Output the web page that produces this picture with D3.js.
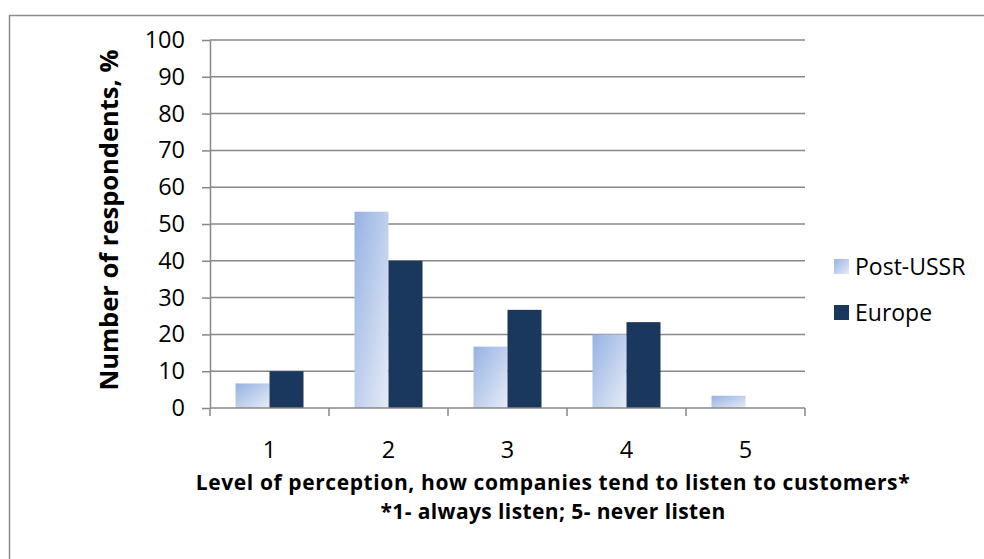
<!DOCTYPE html>
<html>
<head>
<meta charset="utf-8">
<script src="https://cdn.jsdelivr.net/npm/d3@7"></script>
<style>
  html, body { margin: 0; padding: 0; background: #fff; }
  svg { display: block; }
  text { font-family: "Open Sans", "Noto Sans", sans-serif; fill: #000; }
</style>
</head>
<body>
<svg id="chart" width="984" height="559"></svg>
<script>
// Survey answers, share of respondents per perception level
const categories = ["1", "2", "3", "4", "5"];
const seriesNames = ["Post-USSR", "Europe"];
const postUssr = [6.67, 53.33, 16.67, 20, 3.33];
const europe = [10, 40, 26.67, 23.33, 0];
const yTicks = [0, 10, 20, 30, 40, 50, 60, 70, 80, 90, 100];

const xTitle = "Level of perception, how companies tend to listen to customers*";
const xNote = "*1- always listen; 5- never listen";
const yTitle = "Number of respondents, %";

const svg = d3.select("#chart");
const plot = { left: 210, right: 805, top: 40, bottom: 408 };
const gridColor = "#878787";

// outer chart frame
svg.append("rect")
  .attr("x", 9.5).attr("y", 15.5)
  .attr("width", 1000).attr("height", 600)
  .attr("fill", "none").attr("stroke", "#8c8c8c").attr("stroke-width", 1.5);

const defs = svg.append("defs");
const grad = defs.append("linearGradient")
  .attr("id", "postGrad")
  .attr("x1", 0).attr("y1", 0).attr("x2", 1).attr("y2", 1);
grad.append("stop").attr("offset", "0%").attr("stop-color", "#96b2e3");
grad.append("stop").attr("offset", "100%").attr("stop-color", "#e6ecf6");

const x = d3.scaleBand().domain(categories).range([plot.left, plot.right]).paddingInner(0).paddingOuter(0);
const y = d3.scaleLinear().domain([0, 100]).range([plot.bottom, plot.top]);
const barW = x.bandwidth() / 3.5;
const groupOffset = (x.bandwidth() - 2 * barW) / 2;

// horizontal gridlines + left tick marks
const yAxis = d3.axisLeft(y).tickValues(yTicks).tickSize(8).tickSizeOuter(0).tickPadding(17);
const gy = svg.append("g").attr("transform", `translate(${plot.left},0)`).call(yAxis);
gy.select(".domain").attr("stroke", gridColor).attr("stroke-width", 1.5);
gy.selectAll(".tick line").attr("stroke", gridColor).attr("stroke-width", 1.5);
gy.selectAll(".tick text").style("font-size", "23.5px").attr("fill", "#000");

svg.append("g").selectAll("line")
  .data(yTicks.filter(d => d > 0))
  .join("line")
  .attr("x1", plot.left).attr("x2", plot.right)
  .attr("y1", d => y(d)).attr("y2", d => y(d))
  .attr("stroke", gridColor).attr("stroke-width", 1.5);

// bars
const barData = [
  { name: seriesNames[0], values: postUssr, fill: "url(#postGrad)", i: 0 },
  { name: seriesNames[1], values: europe, fill: "#1a375e", i: 1 }
];
barData.forEach(s => {
  svg.append("g").selectAll("rect")
    .data(s.values.map((v, k) => ({ cat: categories[k], v })))
    .join("rect")
    .attr("x", d => x(d.cat) + groupOffset + s.i * barW)
    .attr("y", d => y(d.v))
    .attr("width", barW)
    .attr("height", d => y(0) - y(d.v))
    .attr("fill", s.fill);
});

// x axis with category ticks
const xAxis = d3.axisBottom(x).tickSize(0).tickPadding(0);
const gx = svg.append("g").attr("transform", `translate(0,${plot.bottom})`).call(xAxis);
gx.select(".domain").remove();
gx.selectAll(".tick text")
  .attr("dy", null).attr("y", 50)
  .style("font-size", "23.5px").attr("fill", "#000");
svg.append("line")
  .attr("x1", plot.left).attr("x2", plot.right)
  .attr("y1", plot.bottom).attr("y2", plot.bottom)
  .attr("stroke", gridColor).attr("stroke-width", 1.5);
const boundaries = [plot.left, ...categories.map(c => x(c) + x.bandwidth())];
svg.append("g").selectAll("line")
  .data(boundaries)
  .join("line")
  .attr("x1", d => d).attr("x2", d => d)
  .attr("y1", plot.bottom).attr("y2", plot.bottom + 8)
  .attr("stroke", gridColor).attr("stroke-width", 1.5);

// axis titles
svg.append("text")
  .attr("x", 553).attr("y", 490)
  .attr("text-anchor", "middle")
  .style("font-size", "21px").style("font-weight", "bold")
  .style("letter-spacing", "0.6px")
  .text(xTitle);
svg.append("text")
  .attr("x", 553).attr("y", 519)
  .attr("text-anchor", "middle")
  .style("font-size", "21px").style("font-weight", "bold")
  .style("letter-spacing", "0.4px")
  .text(xNote);

svg.append("text")
  .attr("transform", "translate(118,220) rotate(-90)")
  .attr("text-anchor", "middle")
  .style("font-size", "25.5px").style("font-weight", "bold")
  .text(yTitle);

// legend
const legend = svg.append("g");
barData.forEach((s, k) => {
  const ly = 259 + k * 46;
  legend.append("rect")
    .attr("x", 834).attr("y", ly)
    .attr("width", 15).attr("height", 15)
    .attr("fill", s.fill);
  legend.append("text")
    .attr("x", 855).attr("y", ly + 16)
    .style("font-size", "23px")
    .text(s.name);
});
</script>
</body>
</html>
